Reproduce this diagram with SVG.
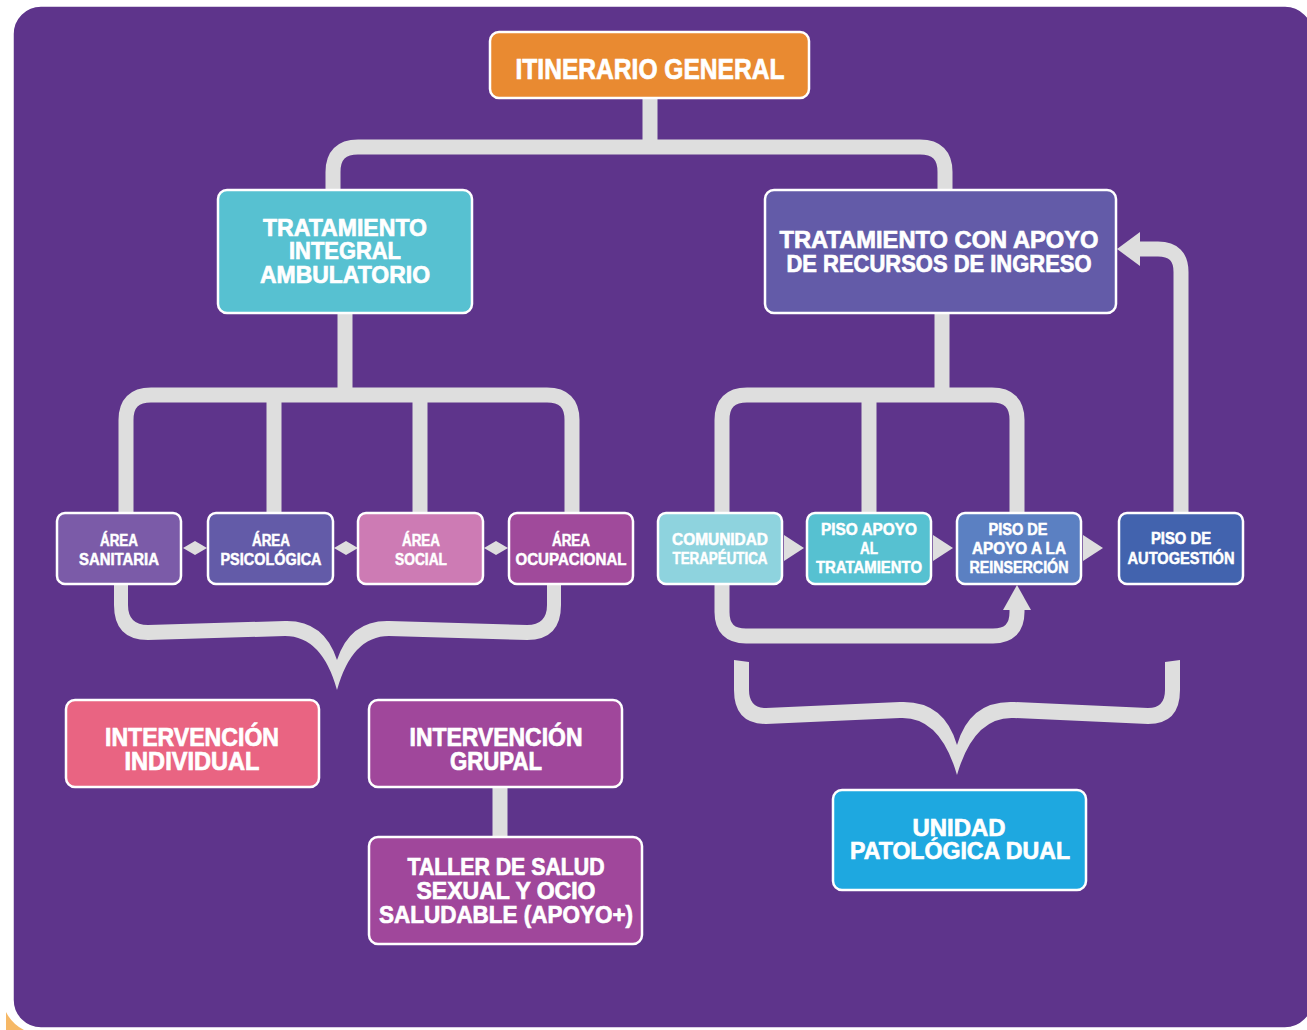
<svg xmlns="http://www.w3.org/2000/svg" width="1307" height="1030" viewBox="0 0 1307 1030">
<style>
.box{stroke:#fff;stroke-width:2.5}
.t{fill:#fff;font-family:"Liberation Sans",Arial,sans-serif;font-weight:bold;text-anchor:middle;stroke:#fff;stroke-width:0.7;paint-order:stroke}
.s{font-size:16px;stroke-width:0.5}
.m{font-size:24px}
.l{font-size:25px}
.con{fill:none;stroke:#DEDEDE;stroke-width:15}
.head{fill:#DEDEDE}
</style>
<rect x="0" y="0" width="1307" height="1030" fill="#fff"/>
<path d="M6,1030 L6,1012 Q12,1024 24,1030 Z" fill="#F6B866"/>
<rect x="13" y="6" width="1300" height="1022" rx="28" fill="#5E348B" stroke="#fff" stroke-width="1.5"/>

<g id="connectors">
<path class="con" d="M650,98 V147"/>
<path class="con" d="M333,190 V172 Q333,147 358,147 H920 Q945,147 945,172 V190"/>
<path class="con" d="M345,313 V395"/>
<path class="con" d="M126,513 V420 Q126,395 151,395 H547 Q572,395 572,420 V513"/>
<path class="con" d="M274,395 V513"/>
<path class="con" d="M420,395 V513"/>
<path class="con" d="M942,313 V395"/>
<path class="con" d="M722,513 V420 Q722,395 747,395 H992 Q1017,395 1017,420 V513"/>
<path class="con" d="M869,395 V513"/>
<path class="con" d="M722,584 V612 Q722,636 746,636 H993 Q1017,636 1017,612 V606"/>
<polygon class="head" points="1003,610 1031,610 1017,585"/>
<path class="con" d="M1181,513 V272 Q1181,249 1158,249 H1137"/>
<polygon class="head" points="1140,232 1140,266 1117,249"/>
<polygon class="head" points="183,548 195,541 207,548 195,555"/>
<polygon class="head" points="334,548 346,541 358,548 346,555"/>
<polygon class="head" points="484,548 496,541 508,548 496,555"/>
<polygon class="head" points="784,535 784,561 804,548"/>
<polygon class="head" points="933,535 933,561 953,548"/>
<polygon class="head" points="1083,535 1083,561 1103,548"/>
<path class="con" d="M500,787 V837"/>
<path class="head" d="M114,584 L114,605 Q114,640 148,640 L285,636 Q322,636 337,690 Q352,636 389,636 L527,640 Q561,640 561,605 L561,584 L547,584 L547,605 Q547,625 527,625 L389,621 Q350,620 337,660 Q324,620 285,621 L148,625 Q128,625 128,605 L128,584 Z"/>
<path class="head" d="M734,660 L734,690 Q734,724 766,724 L900,718 Q940,716 957,775 Q974,716 1014,718 L1148,724 Q1180,724 1180,690 L1180,660 L1165,662 L1165,690 Q1165,708 1148,708 L1014,702 Q970,700 957,745 Q944,700 900,702 L766,708 Q749,708 749,690 L749,662 Z"/>
</g>

<g id="itinerario-general">
<rect class="box" x="490" y="32" width="319" height="66" rx="9" fill="#E98A31"/>
<text class="t" x="650" y="79" font-size="29" textLength="269" lengthAdjust="spacingAndGlyphs">ITINERARIO GENERAL</text>
</g>

<g id="tratamiento-integral">
<rect class="box" x="218" y="190" width="254" height="123" rx="9" fill="#57C1D1"/>
<text class="t m" x="345" y="236" textLength="164" lengthAdjust="spacingAndGlyphs">TRATAMIENTO</text>
<text class="t m" x="345" y="259" textLength="112" lengthAdjust="spacingAndGlyphs">INTEGRAL</text>
<text class="t m" x="345" y="283" textLength="170" lengthAdjust="spacingAndGlyphs">AMBULATORIO</text>
</g>

<g id="tratamiento-apoyo">
<rect class="box" x="765" y="190" width="351" height="123" rx="9" fill="#635BA8"/>
<text class="t m" x="939" y="248" textLength="319" lengthAdjust="spacingAndGlyphs">TRATAMIENTO CON APOYO</text>
<text class="t m" x="939" y="272" textLength="305" lengthAdjust="spacingAndGlyphs">DE RECURSOS DE INGRESO</text>
</g>

<g id="area-sanitaria">
<rect class="box" x="57" y="513" width="124" height="71" rx="8" fill="#7B5BA8"/>
<text class="t s" x="119" y="546" textLength="38" lengthAdjust="spacingAndGlyphs">ÁREA</text>
<text class="t s" x="119" y="565" textLength="80" lengthAdjust="spacingAndGlyphs">SANITARIA</text>
</g>
<g id="area-psicologica">
<rect class="box" x="208" y="513" width="125" height="71" rx="8" fill="#635BA8"/>
<text class="t s" x="271" y="546" textLength="38" lengthAdjust="spacingAndGlyphs">ÁREA</text>
<text class="t s" x="271" y="565" textLength="101" lengthAdjust="spacingAndGlyphs">PSICOLÓGICA</text>
</g>
<g id="area-social">
<rect class="box" x="358" y="513" width="125" height="71" rx="8" fill="#CD7BB4"/>
<text class="t s" x="421" y="546" textLength="38" lengthAdjust="spacingAndGlyphs">ÁREA</text>
<text class="t s" x="421" y="565" textLength="52" lengthAdjust="spacingAndGlyphs">SOCIAL</text>
</g>
<g id="area-ocupacional">
<rect class="box" x="509" y="513" width="124" height="71" rx="8" fill="#A04A9B"/>
<text class="t s" x="571" y="546" textLength="38" lengthAdjust="spacingAndGlyphs">ÁREA</text>
<text class="t s" x="571" y="565" textLength="111" lengthAdjust="spacingAndGlyphs">OCUPACIONAL</text>
</g>

<g id="comunidad-terapeutica">
<rect class="box" x="658" y="513" width="124" height="71" rx="8" fill="#8ED3DE"/>
<text class="t s" x="720" y="545" textLength="96" lengthAdjust="spacingAndGlyphs">COMUNIDAD</text>
<text class="t s" x="720" y="564" textLength="95" lengthAdjust="spacingAndGlyphs">TERAPÉUTICA</text>
</g>
<g id="piso-apoyo-tratamiento">
<rect class="box" x="807" y="513" width="124" height="71" rx="8" fill="#56C1D1"/>
<text class="t s" x="869" y="535" textLength="96" lengthAdjust="spacingAndGlyphs">PISO APOYO</text>
<text class="t s" x="869" y="554" textLength="18" lengthAdjust="spacingAndGlyphs">AL</text>
<text class="t s" x="869" y="573" textLength="106" lengthAdjust="spacingAndGlyphs">TRATAMIENTO</text>
</g>
<g id="piso-reinsercion">
<rect class="box" x="957" y="513" width="124" height="71" rx="8" fill="#5B80C2"/>
<text class="t s" x="1018" y="535" textLength="59" lengthAdjust="spacingAndGlyphs">PISO DE</text>
<text class="t s" x="1019" y="554" textLength="94" lengthAdjust="spacingAndGlyphs">APOYO A LA</text>
<text class="t s" x="1019" y="573" textLength="99" lengthAdjust="spacingAndGlyphs">REINSERCIÓN</text>
</g>
<g id="piso-autogestion">
<rect class="box" x="1119" y="513" width="124" height="71" rx="8" fill="#4263AE"/>
<text class="t s" x="1181" y="544" textLength="60" lengthAdjust="spacingAndGlyphs">PISO DE</text>
<text class="t s" x="1181" y="564" textLength="107" lengthAdjust="spacingAndGlyphs">AUTOGESTIÓN</text>
</g>

<g id="intervencion-individual">
<rect class="box" x="66" y="700" width="253" height="87" rx="9" fill="#E96482"/>
<text class="t l" x="192" y="746" textLength="174" lengthAdjust="spacingAndGlyphs">INTERVENCIÓN</text>
<text class="t l" x="192" y="770" textLength="135" lengthAdjust="spacingAndGlyphs">INDIVIDUAL</text>
</g>
<g id="intervencion-grupal">
<rect class="box" x="369" y="700" width="253" height="87" rx="9" fill="#A0479B"/>
<text class="t l" x="496" y="746" textLength="173" lengthAdjust="spacingAndGlyphs">INTERVENCIÓN</text>
<text class="t l" x="496" y="770" textLength="92" lengthAdjust="spacingAndGlyphs">GRUPAL</text>
</g>
<g id="taller">
<rect class="box" x="369" y="837" width="273" height="107" rx="9" fill="#A0479B"/>
<text class="t m" x="506" y="875" textLength="197" lengthAdjust="spacingAndGlyphs">TALLER DE SALUD</text>
<text class="t m" x="506" y="899" textLength="179" lengthAdjust="spacingAndGlyphs">SEXUAL Y OCIO</text>
<text class="t m" x="506" y="923" textLength="254" lengthAdjust="spacingAndGlyphs">SALUDABLE (APOYO+)</text>
</g>
<g id="unidad-patologica-dual">
<rect class="box" x="833" y="790" width="253" height="100" rx="9" fill="#1EA8E0"/>
<text class="t m" x="959" y="836" textLength="93" lengthAdjust="spacingAndGlyphs">UNIDAD</text>
<text class="t m" x="960" y="859" textLength="220" lengthAdjust="spacingAndGlyphs">PATOLÓGICA DUAL</text>
</g>
</svg>
